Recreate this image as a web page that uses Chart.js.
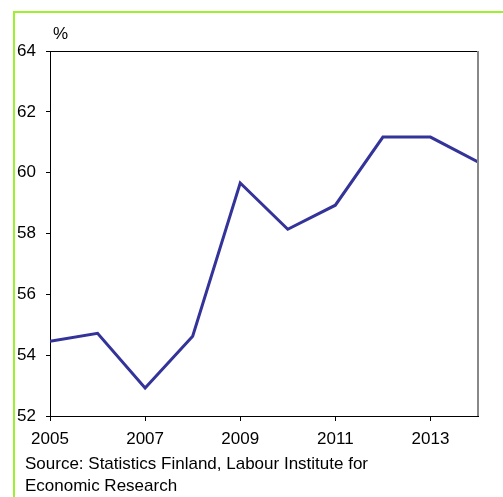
<!DOCTYPE html>
<html lang="en">
<head>
  <meta charset="UTF-8">
  <title>Share chart</title>
  <style>
    body {
      margin: 0;
      padding: 0;
      background: #fff;
    }
    #wrap {
      width: 503px;
      height: 497px;
      position: relative;
    }
  </style>
</head>
<body>
  <div id="wrap"><canvas id="chart" width="503" height="497"></canvas></div>

  <script src="https://cdn.jsdelivr.net/npm/chart.js"></script>
  <script>
    // data
    const years = [2005, 2006, 2007, 2008, 2009, 2010, 2011, 2012, 2013, 2014];
    const share = [54.46, 54.72, 52.92, 54.62, 59.66, 58.14, 58.93, 61.17, 61.17, 60.35];
    const yTicks = [52, 54, 56, 58, 60, 62, 64];
    const xTicks = [2005, 2007, 2009, 2011, 2013];
    const unitLabel = '%';
    const sourceLines = ['Source: Statistics Finland, Labour Institute for', 'Economic Research'];

    const fontFamily = 'Arial, "Liberation Sans", sans-serif';

    const decor = {
      id: 'decor',
      afterDraw(chart) {
        const ctx = chart.ctx;
        const a = chart.chartArea;
        ctx.save();
        // green frame (top + left)
        ctx.strokeStyle = '#9cf02c';
        ctx.lineWidth = 2;
        ctx.beginPath();
        ctx.moveTo(14, 497);
        ctx.lineTo(14, 12);
        ctx.lineTo(503, 12);
        ctx.stroke();

        // top and right edges of the plot box
        ctx.strokeStyle = '#000';
        ctx.lineWidth = 1;
        ctx.beginPath();
        ctx.moveTo(a.left, a.top + 0.5);
        ctx.lineTo(a.right, a.top + 0.5);
        ctx.stroke();
        ctx.strokeStyle = '#888';
        ctx.lineWidth = 2;
        ctx.beginPath();
        ctx.moveTo(a.right, a.top);
        ctx.lineTo(a.right, a.bottom);
        ctx.stroke();

        ctx.fillStyle = '#000';
        ctx.font = '17px ' + fontFamily;
        ctx.textBaseline = 'middle';
        ctx.textAlign = 'left';
        ctx.fillText(unitLabel, 53, 34);
        ctx.fillText(sourceLines[0], 25, 464);
        ctx.fillText(sourceLines[1], 25, 486);
        ctx.restore();
      }
    };

    new Chart(document.getElementById('chart'), {
      type: 'line',
      data: {
        datasets: [{
          data: years.map((y, i) => ({ x: y, y: share[i] })),
          borderColor: '#333399',
          borderWidth: 3,
          pointRadius: 0,
          fill: false,
          tension: 0
        }]
      },
      options: {
        responsive: false,
        animation: false,
        layout: { padding: { left: 0, top: 51, right: 25, bottom: 0 } },
        plugins: {
          legend: { display: false },
          tooltip: { enabled: false }
        },
        scales: {
          x: {
            type: 'linear',
            min: years[0],
            max: years[years.length - 1],
            afterFit: s => { s.height = 81; },
            afterBuildTicks: s => { s.ticks = xTicks.map(v => ({ value: v })); },
            grid: { drawOnChartArea: false, tickLength: 5, color: '#000' },
            border: { color: '#000', width: 1 },
            ticks: {
              color: '#000',
              padding: 8,
              maxRotation: 0,
              font: { family: fontFamily, size: 17 },
              callback: v => String(v)
            }
          },
          y: {
            min: yTicks[0],
            max: yTicks[yTicks.length - 1],
            afterFit: s => { s.width = 50; },
            afterBuildTicks: s => { s.ticks = yTicks.map(v => ({ value: v })); },
            grid: { drawOnChartArea: false, tickLength: 4, color: '#000' },
            border: { color: '#000', width: 1 },
            ticks: {
              color: '#000',
              padding: 10,
              font: { family: fontFamily, size: 17 },
              callback: v => String(v)
            }
          }
        }
      },
      plugins: [decor]
    });
  </script>
</body>
</html>
